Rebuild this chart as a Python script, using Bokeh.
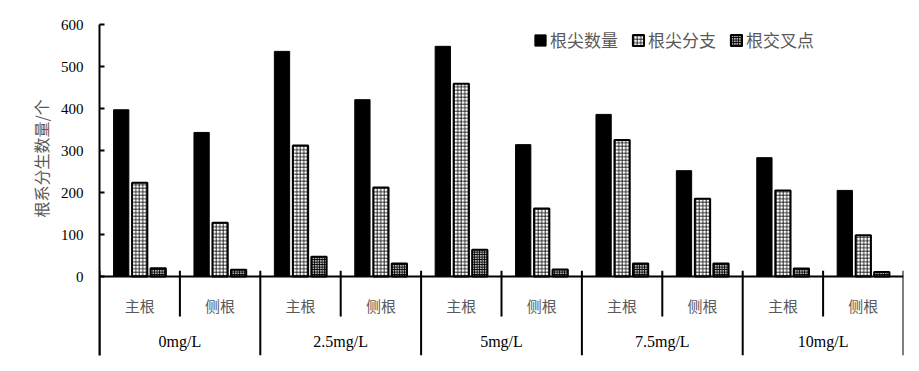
from bokeh.plotting import figure
from bokeh.models import Range1d, FixedTicker, Title, ColumnDataSource, Legend, LegendItem
from bokeh.core.properties import value
from bokeh.embed import file_html
from bokeh.resources import INLINE

groups = ["0mg/L", "2.5mg/L", "5mg/L", "7.5mg/L", "10mg/L"]
subs = ["主根", "侧根"]
tip_count = [397, 343, 536, 421, 548, 314, 386, 252, 283, 205]
tip_branch = [223, 128, 312, 212, 459, 162, 325, 185, 205, 98]
crossings = [20, 16, 47, 31, 64, 17, 31, 31, 19, 11]
series_names = ["根尖数量", "根尖分支", "根交叉点"]
y_ticks = [0, 100, 200, 300, 400, 500, 600]
y_title = "根系分生数量/个"

n = len(tip_count)
centers = [i + 0.5 for i in range(n)]
sub_labels = [subs[i % 2] for i in range(n)]
group_centers = [2 * g + 1 for g in range(len(groups))]

CJK = "Noto Sans CJK SC"
SERIF = "Liberation Serif"
GRAY = "#595959"

p = figure(width=913, height=363, x_range=Range1d(0, n), y_range=Range1d(-188, 600),
           x_axis_location=None, output_backend="svg", toolbar_location=None,
           min_border_left=99, min_border_right=10, min_border_top=24, min_border_bottom=8)
p.outline_line_color = None
p.grid.visible = False

ax = p.yaxis[0]
ax.ticker = FixedTicker(ticks=y_ticks)
ax.major_tick_in = 5
ax.major_tick_out = 0
ax.minor_tick_line_color = None
ax.axis_line_width = 2
ax.major_tick_line_width = 2
ax.major_label_standoff = 16
ax.major_label_text_font = SERIF
ax.major_label_text_font_size = "15px"
ax.major_label_text_color = "black"

off = 0.23
w = 0.19
src = ColumnDataSource(dict(x=centers, a=tip_count, b=tip_branch, c=crossings))
src.data["xa"] = [x - off for x in centers]
src.data["xb"] = centers
src.data["xc"] = [x + off for x in centers]

r1 = p.vbar(x="xa", top="a", bottom=0, width=w, source=src, fill_color="black", line_color="black", line_width=1)
r2 = p.vbar(x="xb", top="b", bottom=0, width=w, source=src, fill_color="white", line_color="black", line_width=2,
            hatch_pattern="+", hatch_scale=3.5, hatch_weight=0.8, hatch_color="black")
r3 = p.vbar(x="xc", top="c", bottom=0, width=w, source=src, fill_color="#b0b0b0", line_color="black", line_width=2,
            hatch_pattern="+", hatch_scale=2.5, hatch_weight=1, hatch_color="black")

# x axis line and separators
y_bottom = p.y_range.start
p.segment(x0=[0], y0=[0], x1=[n], y1=[0], line_color="black", line_width=2)
bx = list(range(n + 1))
p.segment(x0=bx, y0=[0] * len(bx), x1=bx, y1=[14] * len(bx), line_color="black", line_width=2)
major = [b for b in bx if b % 2 == 0]
minor = [b for b in bx if b % 2 == 1]
p.segment(x0=major, y0=[0] * len(major), x1=major, y1=[y_bottom] * len(major), line_color="black", line_width=2)
p.segment(x0=minor, y0=[0] * len(minor), x1=minor, y1=[-95] * len(minor), line_color="black", line_width=2)

p.text(x=centers, y=[-69] * n, text=sub_labels, text_font=value(CJK), text_font_size="15px",
       text_color=GRAY, text_align="center", text_baseline="middle")
p.text(x=group_centers, y=[-155] * len(groups), text=groups, text_font=value(SERIF), text_font_size="16px",
       text_color="black", text_align="center", text_baseline="middle")

p.add_layout(Title(text=y_title, align="left", offset=138, standoff=10,
                   text_font=CJK, text_font_size="16px", text_font_style="normal",
                   text_color=GRAY), "left")

legend = Legend(items=[LegendItem(label=series_names[0], renderers=[r1]),
                       LegendItem(label=series_names[1], renderers=[r2]),
                       LegendItem(label=series_names[2], renderers=[r3])],
                orientation="horizontal", location=(434, 303),
                label_text_font=CJK, label_text_font_size="17px", label_text_color=GRAY,
                glyph_width=14, glyph_height=14, label_standoff=3, spacing=13, padding=2, margin=0,
                border_line_color=None, background_fill_alpha=0, label_height=16)
p.add_layout(legend)

open("out.html", "w").write(file_html(p, INLINE))
